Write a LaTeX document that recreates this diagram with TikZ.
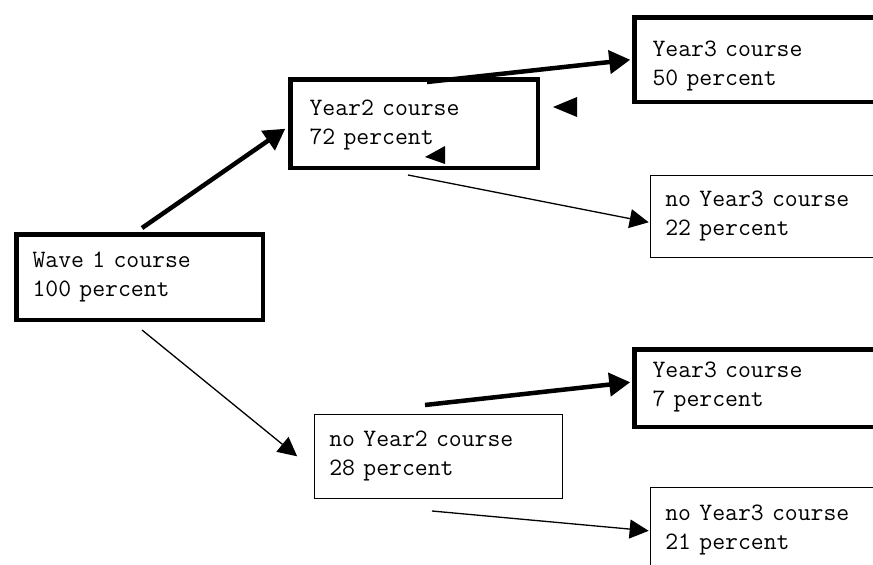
\documentclass[tikz,border=0pt]{standalone}
\usepackage{fontspec}
\usetikzlibrary{arrows.meta,calc}
\begin{document}
\begin{tikzpicture}[x=1pt,y=-1pt,
  thickbox/.style={draw, line width=4.5pt, rectangle, anchor=north west, align=left,
    font=\fontsize{25}{29}\ttfamily},
  thinbox/.style={thickbox, line width=1.3pt},
  thickarr/.style={line width=4.5pt, -{Triangle[length=21pt,width=23pt]}},
  thinarr/.style={line width=1.3pt, -{Triangle[length=19pt,width=19pt]}}]
\useasboundingbox (0,0) rectangle (873,565);

\node[thickbox, minimum width=246.5pt, minimum height=85.5pt, inner xsep=16pt, text width=214.5pt] (w1) at (14.25,232.25) {Wave 1 course\\100 percent};
\node[thickbox, minimum width=247.5pt, minimum height=88.5pt, inner xsep=19pt, text width=209.5pt] (y2) at (288.25,77.25) {\rule{0pt}{19pt}Year2 course\\72 percent};
\node[thickbox, minimum width=250pt, minimum height=84.5pt, inner xsep=18pt, text width=214pt] (y3a) at (632.25,15.25) {\rule{0pt}{28pt}Year3 course\\50 percent};
\node[thinbox, minimum width=250pt, minimum height=82pt, inner xsep=15pt, text width=220pt] (n3a) at (649.65,174.65) {no Year3 course\\22 percent};
\node[thickbox, minimum width=250pt, minimum height=77.5pt, inner xsep=18pt, text width=214pt] (y3b) at (632.25,347.25) {Year3 course\\7 percent\rule[-8pt]{0pt}{8pt}};
\node[thinbox, minimum width=248pt, minimum height=84pt, inner xsep=15pt, text width=218pt] (n2) at (313.65,413.65) {no Year2 course\\28 percent};
\node[thinbox, minimum width=250pt, minimum height=85pt, inner xsep=15pt, text width=220pt] (n3b) at (649.65,486.65) {no Year3 course\\21 percent};

\coordinate (a1s) at (142,228);
\coordinate (a2s) at (427,82);
\coordinate (a3s) at (408,175);
\coordinate (a4s) at (142,330);
\coordinate (a5s) at (425,405);
\coordinate (a6s) at (432,511);

\draw[thickarr] (a1s) -- ($(y2.west)+(-3,5)$);
\draw[thickarr] (a2s) -- ($(y3a.west)+(-2,0)$);
\draw[thinarr] (a3s) -- ($(n3a.west)+(-1,6)$);
\draw[thinarr] (a4s) -- ($(n2.west)+(-16.5,0)$);
\draw[thickarr] (a5s) -- ($(y3b.west)+(-2,-6)$);
\draw[thinarr] (a6s) -- ($(n3b.west)+(-1,1)$);

\fill (553,107) -- (577,97) -- (577,117) -- cycle;
\fill (425,157) -- (445,146) -- (445,164) -- cycle;
\end{tikzpicture}
\end{document}
